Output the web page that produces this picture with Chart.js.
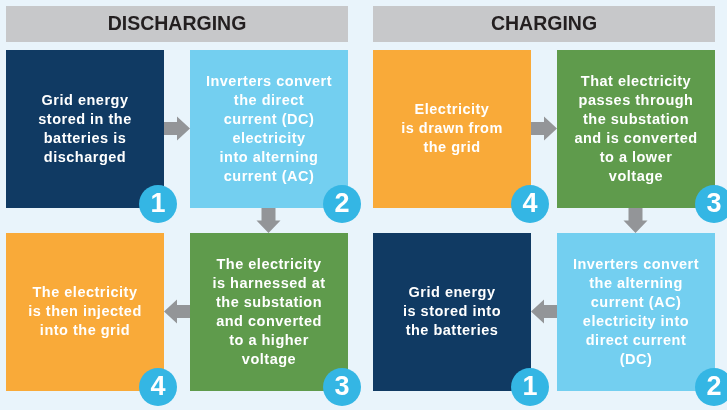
<!DOCTYPE html>
<html>
<head>
<meta charset="utf-8">
<script src="https://cdn.jsdelivr.net/npm/chart.js@4"></script>
<style>
  html, body { margin: 0; padding: 0; background: #e9f4fb; }
  canvas { display: block; }
</style>
</head>
<body>
<canvas id="pasos" width="727" height="410"></canvas>
<script>
// datos
const panelTitles = ["DISCHARGING", "CHARGING"];
const stepNumbers = [1, 2, 3, 4];
const dischargingSteps = [
    ["Grid energy", "stored in the", "batteries is", "discharged"],
    ["Inverters convert", "the direct", "current (DC)", "electricity", "into alterning", "current (AC)"],
    ["The electricity", "is harnessed at", "the substation", "and converted", "to a higher", "voltage"],
    ["The electricity", "is then injected", "into the grid"]
];
const chargingSteps = [
    ["Grid energy", "is stored into", "the batteries"],
    ["Inverters convert", "the alterning", "current (AC)", "electricity into", "direct current", "(DC)"],
    ["That electricity", "passes through", "the substation", "and is converted", "to a lower", "voltage"],
    ["Electricity", "is drawn from", "the grid"]
];

// estilos y posiciones (unidades de la escala = pixeles)
const stepColors = ["#103a63", "#73cff0", "#5f9b4c", "#f9aa39"];
const badgeColor = "#34b6e4";
const arrowColor = "#939598";
const headerColor = "#c7c8ca";
const boxSide = 158;
const panelLeft = [6, 373];
const colOffset = [0, 184];
const rowTop = [50, 233];
// posicion de cada paso en la cuadricula [col, fila], por panel
const gridPos = [
    [[0, 0], [1, 0], [1, 1], [0, 1]],
    [[0, 1], [1, 1], [1, 0], [0, 0]]
];
const badgeShift = [-6, -1];
// flechas: de paso a paso
const arrowSteps = [
    [[0, 1], [1, 2], [2, 3]],
    [[3, 2], [2, 1], [1, 0]]
];

const allSteps = [dischargingSteps, chargingSteps];
const boxPoints = [];
const boxColors = [];
const boxTexts = [];
const badgePoints = [];
const badgeLabels = [];
allSteps.forEach((steps, p) => {
    steps.forEach((lines, i) => {
        const [c, r] = gridPos[p][i];
        const left = panelLeft[p] + colOffset[c];
        const top = rowTop[r];
        boxPoints.push({ x: left + boxSide / 2, y: top + boxSide / 2 });
        boxColors.push(stepColors[i]);
        boxTexts.push(lines);
        badgePoints.push({ x: left + boxSide + badgeShift[p], y: top + boxSide - 4 });
        badgeLabels.push(String(stepNumbers[i]));
    });
});

const plugin = {
    id: "diagrama",
    beforeDatasetsDraw(chart) {
        const ctx = chart.ctx;
        const x = chart.scales.x, y = chart.scales.y;
        ctx.save();
        panelTitles.forEach((title, p) => {
            const x0 = x.getPixelForValue(panelLeft[p]);
            const x1 = x.getPixelForValue(panelLeft[p] + colOffset[1] + boxSide);
            const y0 = y.getPixelForValue(6);
            const y1 = y.getPixelForValue(42);
            ctx.fillStyle = headerColor;
            ctx.fillRect(x0, y0, x1 - x0, y1 - y0);
            ctx.fillStyle = "#231f20";
            ctx.font = 'bold 19.5px "Liberation Sans", Arial, sans-serif';
            ctx.textAlign = "center";
            ctx.textBaseline = "middle";
            ctx.fillText(title, (x0 + x1) / 2, (y0 + y1) / 2 + 1);
        });
        ctx.restore();
    },
    afterDatasetsDraw(chart) {
        const ctx = chart.ctx;
        const boxes = chart.getDatasetMeta(1).data;
        const badges = chart.getDatasetMeta(0).data;
        const half = boxSide / 2;
        ctx.save();
        // flechas
        ctx.fillStyle = arrowColor;
        arrowSteps.forEach((pares, p) => {
            pares.forEach(([a, b]) => {
                const A = boxes[p * 4 + a], B = boxes[p * 4 + b];
                ctx.beginPath();
                if (Math.abs(A.y - B.y) < 1) {
                    const dir = B.x > A.x ? 1 : -1;
                    const s = A.x + dir * half;
                    const e = B.x - dir * half;
                    const base = e - dir * 13;
                    const cy = A.y - 0.5;
                    ctx.moveTo(s, cy - 6.5);
                    ctx.lineTo(base, cy - 6.5);
                    ctx.lineTo(base, cy - 12);
                    ctx.lineTo(e, cy);
                    ctx.lineTo(base, cy + 12);
                    ctx.lineTo(base, cy + 6.5);
                    ctx.lineTo(s, cy + 6.5);
                } else {
                    const s = A.y + half;
                    const e = B.y - half;
                    const base = e - 12.5;
                    const cx = A.x - 0.5;
                    ctx.moveTo(cx - 7, s);
                    ctx.lineTo(cx - 7, base);
                    ctx.lineTo(cx - 12, base);
                    ctx.lineTo(cx, e);
                    ctx.lineTo(cx + 12, base);
                    ctx.lineTo(cx + 7, base);
                    ctx.lineTo(cx + 7, s);
                }
                ctx.closePath();
                ctx.fill();
            });
        });
        // textos de los pasos
        ctx.fillStyle = "#ffffff";
        ctx.textAlign = "center";
        ctx.textBaseline = "middle";
        ctx.font = 'bold 14.5px "Liberation Sans", Arial, sans-serif';
        ctx.letterSpacing = "0.5px";
        const lineH = 19;
        boxes.forEach((el, i) => {
            const lines = boxTexts[i];
            const start = el.y - (lines.length - 1) * lineH / 2;
            lines.forEach((line, k) => {
                ctx.fillText(line, el.x, start + k * lineH);
            });
        });
        // numeros
        ctx.letterSpacing = "0px";
        ctx.font = 'bold 27px "Liberation Sans", Arial, sans-serif';
        badges.forEach((el, i) => {
            ctx.fillText(badgeLabels[i], el.x, el.y + 1);
        });
        ctx.restore();
    }
};

const ctx = document.getElementById("pasos").getContext("2d");
const diagrama = new Chart(ctx, {
    type: "scatter",
    data: {
        datasets: [
            {
                label: "numeros",
                data: badgePoints,
                pointStyle: "circle",
                pointRadius: 19,
                pointBackgroundColor: badgeColor,
                pointBorderWidth: 0,
                clip: false,
                order: 0
            },
            {
                label: "pasos",
                data: boxPoints,
                pointStyle: "rect",
                pointRadius: boxSide / Math.SQRT2,
                pointBackgroundColor: boxColors,
                pointBorderWidth: 0,
                clip: false,
                order: 1
            }
        ]
    },
    options: {
        responsive: false,
        animation: false,
        events: [],
        layout: { padding: 0, autoPadding: false },
        plugins: { legend: { display: false }, tooltip: { enabled: false } },
        scales: {
            x: { type: "linear", min: 0, max: 727, display: false },
            y: { type: "linear", min: 0, max: 410, reverse: true, display: false }
        }
    },
    plugins: [plugin]
});
</script>
</body>
</html>
